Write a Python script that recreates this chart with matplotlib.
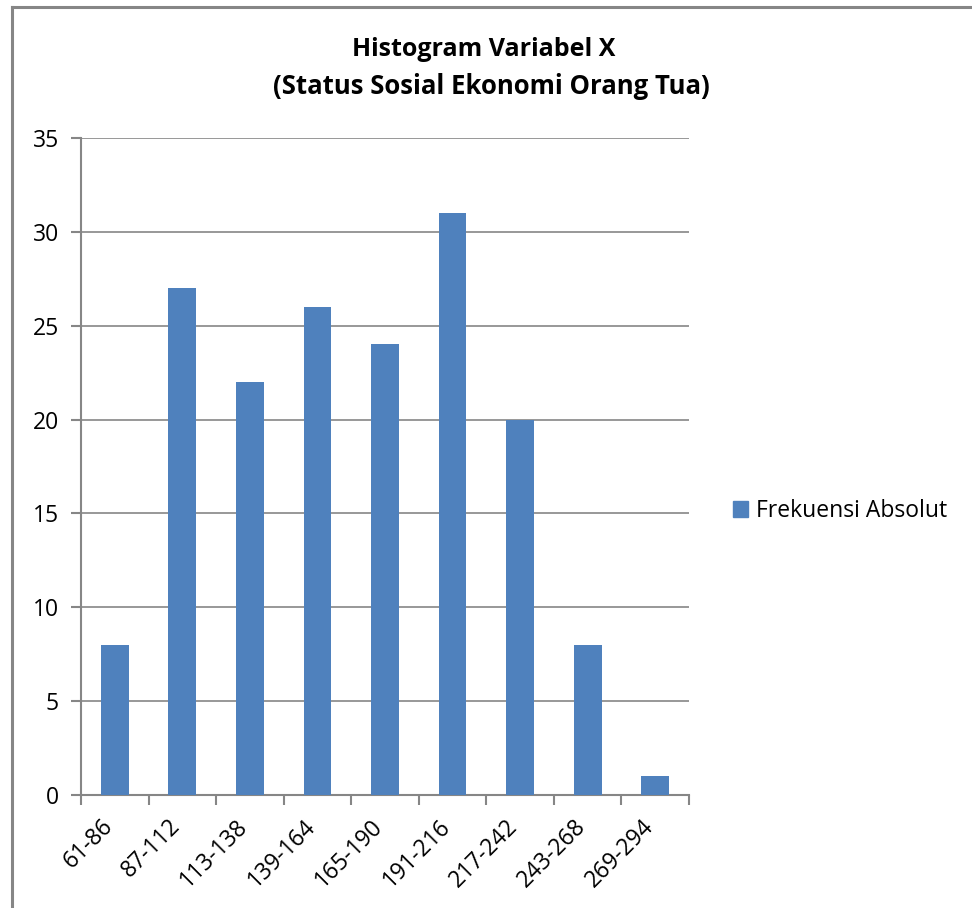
import matplotlib.pyplot as plt
import matplotlib.patches as mpatches
import matplotlib.transforms as mtransforms
import numpy as np

# data
Kelas = ["61-86", "87-112", "113-138", "139-164", "165-190",
         "191-216", "217-242", "243-268", "269-294"]
Frekuensi = [8, 27, 22, 26, 24, 31, 20, 8, 1]
YTicks = [0, 5, 10, 15, 20, 25, 30, 35]

BarColor = "#4F81BD"
LineColor = "#868686"

plt.rcParams["font.family"] = ["Open Sans", "DejaVu Sans"]

fig = plt.figure(figsize=(9.72, 9.08), dpi=100)
ax = fig.add_axes([81 / 972, 1 - 795 / 908, 608 / 972, (795 - 138) / 908])

x = np.arange(len(Kelas))
ax.bar(x, Frekuensi, width=0.41, color=BarColor, zorder=3,
       label="Frekuensi Absolut")

ax.set_xlim(-0.5, len(Kelas) - 0.5)
ax.set_ylim(0, 35)
ax.set_yticks(YTicks)
ax.set_yticklabels([str(v) for v in YTicks], fontsize=16.5)
ax.yaxis.grid(True, color=LineColor, linewidth=1.2, zorder=0)

# ticks on category boundaries, labels at centres
ax.set_xticks(np.arange(len(Kelas) + 1) - 0.5)
ax.set_xticklabels([])
ax.set_xticks(x, minor=True)
ax.set_xticklabels(Kelas, minor=True, rotation=45, ha="right",
                   rotation_mode="anchor", fontsize=16.5)
ax.tick_params(axis="x", which="minor", length=0, pad=14)
ax.tick_params(axis="x", which="major", length=7, width=1.5, color=LineColor)
ax.tick_params(axis="y", length=7, width=1.5, color=LineColor, pad=9)

# shift rotated labels a little to the left, as in the original
shift = mtransforms.ScaledTranslation(-14 / 100, 0, fig.dpi_scale_trans)
for lbl in ax.get_xticklabels(minor=True):
    lbl.set_transform(lbl.get_transform() + shift)

for s in ["top", "right"]:
    ax.spines[s].set_visible(False)
for s in ["left", "bottom"]:
    ax.spines[s].set_color(LineColor)
    ax.spines[s].set_linewidth(1.5)

fig.text(484 / 972, 1 - 49 / 908, "Histogram Variabel X", ha="center",
         va="center", fontsize=18, fontweight="bold")
fig.text(491 / 972, 1 - 87 / 908, "(Status Sosial Ekonomi Orang Tua)",
         ha="center", va="center", fontsize=18.5, fontweight="bold")

handle = mpatches.Patch(color=BarColor, label="Frekuensi Absolut")
fig.legend(handles=[handle], loc="center left",
           bbox_to_anchor=(712 / 972, 1 - 511 / 908), frameon=False,
           fontsize=16.5, handlelength=0.65, handleheight=0.65,
           handletextpad=0.35)

# chart border (right/bottom fall outside the picture)
fig.add_artist(plt.Line2D([12 / 972, 12 / 972], [0, 1 - 6.5 / 908],
                          color=LineColor, linewidth=2.2))
fig.add_artist(plt.Line2D([12 / 972, 1], [1 - 6.5 / 908, 1 - 6.5 / 908],
                          color=LineColor, linewidth=2.2))

fig.savefig("out.png", dpi=100)
